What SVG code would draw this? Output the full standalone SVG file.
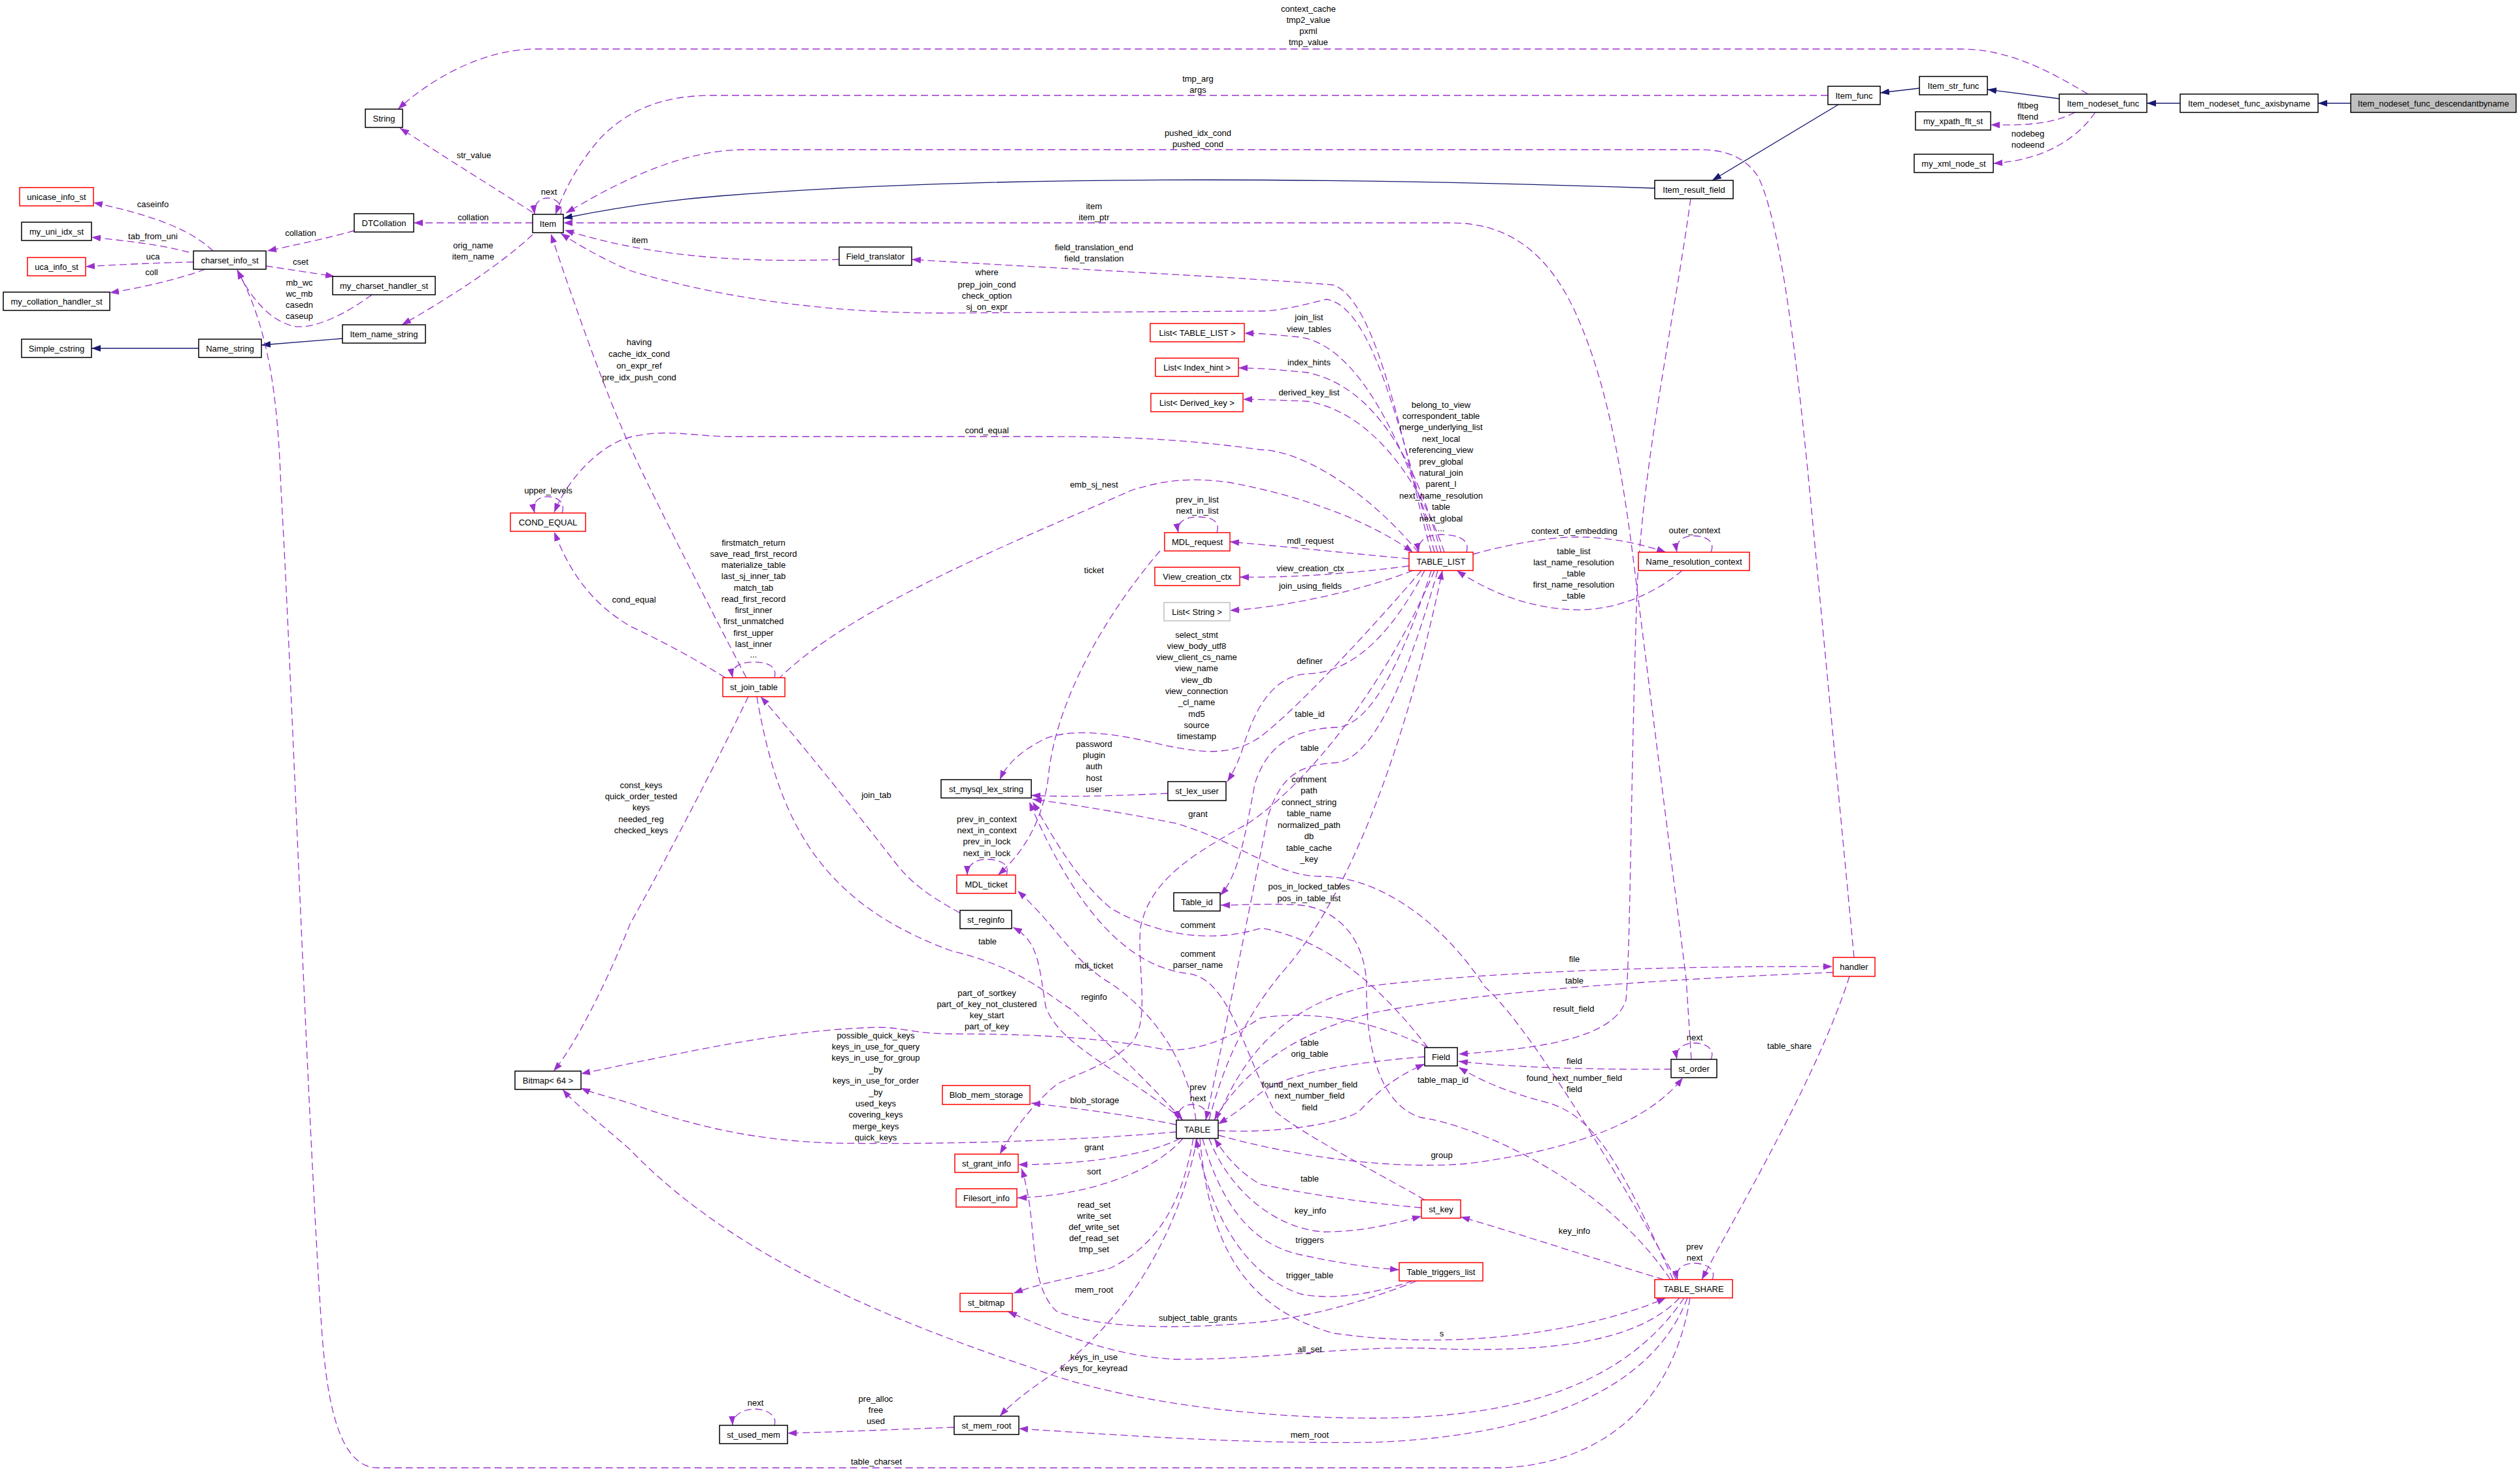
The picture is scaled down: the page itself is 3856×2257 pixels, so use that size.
<svg xmlns="http://www.w3.org/2000/svg" width="3856" height="2257" viewBox="0 0 3856 2257">
<style>
.n rect{fill:#fff;stroke:#000;stroke-width:1.5}
.n.r rect{stroke:#ff0000}
.n.g rect{stroke:#bfbfbf}
.n.h rect{fill:#bfbfbf}
text{font-family:"Liberation Sans",Arial,Helvetica,sans-serif;font-size:13px;fill:#000;text-anchor:middle}
.e{fill:none;stroke:#9a32cd;stroke-width:1.3;stroke-dasharray:11,6;marker-end:url(#ap)}
.i{fill:none;stroke:#191970;stroke-width:1.3;marker-end:url(#an)}
</style>
<defs>
<marker id="ap" viewBox="0 0 14 10" refX="14" refY="5" markerWidth="14" markerHeight="10" markerUnits="userSpaceOnUse" orient="auto"><path d="M0,0L14,5L0,10z" fill="#9a32cd"/></marker>
<marker id="an" viewBox="0 0 14 10" refX="14" refY="5" markerWidth="14" markerHeight="10" markerUnits="userSpaceOnUse" orient="auto"><path d="M0,0L14,5L0,10z" fill="#191970"/></marker>
</defs>
<rect width="3856" height="2257" fill="#fff"/>
<g id="connectors">
<path class="i" d="M3597,158L3547,158"/>
<path class="i" d="M3336,158L3285,158"/>
<path class="i" d="M3151,151L3041,137"/>
<path class="i" d="M2937,135L2877,142"/>
<path class="i" d="M2813,160L2620,276"/>
<path class="i" d="M2532,288C2000,270 1500,268 1100,300C1000,308 920,322 862,334"/>
<path class="i" d="M524,518L400,528"/>
<path class="i" d="M304,533L140,533"/>

<path class="e" d="M3195,144C3130,105 3070,75 3000,75L820,75C740,75 660,120 609,167"/>
<text x="2002" y="18">context_cache</text><text x="2002" y="35">tmp2_value</text><text x="2002" y="52">pxml</text><text x="2002" y="69">tmp_value</text>

<path class="e" d="M2797,146L1090,146C1010,146 960,170 920,210C880,255 860,300 850,328"/>
<text x="1833" y="124.5">tmp_arg</text><text x="1833" y="141.5">args</text>

<path class="e" d="M2837,1465L2770,760C2745,500 2720,330 2690,270C2670,240 2640,229 2600,229L1140,229C1050,229 960,270 866,326"/>
<text x="1833" y="207.5">pushed_idx_cond</text><text x="1833" y="224.5">pushed_cond</text>

<path class="e" d="M2588,1621L2580,1497L2506,910C2490,780 2470,620 2420,500C2380,400 2320,341 2220,341L862,341"/>
<text x="1674" y="319.5">item</text><text x="1674" y="336.5">item_ptr</text>

<path class="e" d="M2587,304C2560,500 2515,700 2505,900C2495,1200 2495,1450 2488,1530C2470,1590 2350,1605 2232,1613"/>
<text x="2408" y="1547.5">result_field</text>

<path class="e" d="M1284,397C1150,402 1000,395 864,352"/>
<text x="979" y="371.5">item</text>

<path class="e" d="M2190,845C2150,700 2110,460 2040,436C1900,424 1600,410 1395,397"/>
<text x="1674" y="382.5">field_translation_end</text><text x="1674" y="399.5">field_translation</text>

<path class="e" d="M2195,845C2140,650 2100,470 2030,458C2000,465 1960,476 1928,476L1450,479C1250,480 1080,450 964,414C920,395 885,375 858,357"/>
<text x="1510" y="420.5">where</text><text x="1510" y="439.5">prep_join_cond</text><text x="1510" y="456.5">check_option</text><text x="1510" y="473.5">sj_on_expr</text>

<path class="e" d="M2200,845C2150,680 2080,530 1990,516C1950,512 1930,510 1904,510"/>
<text x="2003" y="489.5">join_list</text><text x="2003" y="507.5">view_tables</text>
<path class="e" d="M2205,845C2165,700 2100,590 2000,570C1950,565 1920,563 1895,563"/>
<text x="2003" y="558.5">index_hints</text>
<path class="e" d="M2210,845C2175,740 2100,630 2000,614C1950,612 1925,611 1902,611"/>
<text x="2003" y="604.5">derived_key_list</text>

<path class="e" d="M2244,845C2250,825 2230,818 2205,818C2180,818 2168,830 2171,845"/>
<text x="2205" y="623.5">belong_to_view</text><text x="2205" y="640.9">correspondent_table</text><text x="2205" y="658.3">merge_underlying_list</text><text x="2205" y="675.7">next_local</text><text x="2205" y="693.1">referencing_view</text><text x="2205" y="710.5">prev_global</text><text x="2205" y="727.9">natural_join</text><text x="2205" y="745.3">parent_l</text><text x="2205" y="762.7">next_name_resolution</text><text x="2205" y="780.1">table</text><text x="2205" y="797.5">next_global</text><text x="2205" y="813">...</text>

<path class="e" d="M2170,845C2100,760 2000,690 1928,688C1800,670 1700,668 1600,668L1118,668C1060,668 1020,655 964,669C920,680 870,730 848,784"/>
<text x="1510" y="662.5">cond_equal</text>

<path class="e" d="M860,785C866,768 852,760 838,760C824,760 814,768 818,785"/>
<text x="839" y="755">upper_levels</text>

<path class="e" d="M1110,1037C1050,1000 1000,975 964,958C900,920 870,870 848,814"/>
<text x="970" y="921.5">cond_equal</text>

<path class="e" d="M1142,1037C1060,880 990,740 964,683C930,610 880,470 843,358"/>
<text x="978" y="527.5">having</text><text x="978" y="546">cache_idx_cond</text><text x="978" y="564">on_expr_ref</text><text x="978" y="581.5">pre_idx_push_cond</text>

<path class="e" d="M1185,1037C1190,1020 1175,1013 1153,1013C1130,1013 1118,1022 1121,1037"/>
<text x="1153" y="834.5">firstmatch_return</text><text x="1153" y="851.8">save_read_first_record</text><text x="1153" y="869">materialize_table</text><text x="1153" y="886.3">last_sj_inner_tab</text><text x="1153" y="903.5">match_tab</text><text x="1153" y="920.8">read_first_record</text><text x="1153" y="938">first_inner</text><text x="1153" y="955.3">first_unmatched</text><text x="1153" y="972.5">first_upper</text><text x="1153" y="989.8">last_inner</text><text x="1153" y="1006">...</text>

<path class="e" d="M1190,1040C1300,930 1550,830 1732,750C1780,735 1820,730 1880,738C2000,760 2100,800 2162,845"/>
<text x="1674" y="745.5">emb_sj_nest</text>

<path class="e" d="M1469,1397C1420,1370 1394,1351 1370,1320C1300,1230 1220,1130 1164,1066"/>
<text x="1341" y="1220.5">join_tab</text>

<path class="e" d="M1158,1066C1190,1250 1250,1380 1456,1455C1560,1480 1600,1520 1640,1545C1700,1600 1780,1680 1810,1714"/>
<text x="1511" y="1444.5">table</text>

<path class="e" d="M1145,1066C1080,1200 1000,1350 964,1414C930,1500 880,1600 847,1639"/>
<text x="981" y="1205.5">const_keys</text><text x="981" y="1222.9">quick_order_tested</text><text x="981" y="1240.3">keys</text><text x="981" y="1257.7">needed_reg</text><text x="981" y="1275.1">checked_keys</text>

<path class="e" d="M2156,855C2050,845 1950,835 1882,829"/>
<text x="2005" y="831.5">mdl_request</text>
<path class="e" d="M1862,815C1868,795 1850,791 1832,791C1812,791 1800,800 1803,815"/>
<text x="1832" y="768.5">prev_in_list</text><text x="1832" y="785.5">next_in_list</text>
<path class="e" d="M2156,866C2050,880 1960,884 1897,883"/>
<text x="2005" y="873.5">view_creation_ctx</text>
<path class="e" d="M2162,873C2080,905 1960,930 1882,934"/>
<text x="2005" y="900.5">join_using_fields</text>

<path class="e" d="M1775,843C1700,930 1620,1060 1605,1180C1598,1260 1560,1310 1527,1339"/>
<text x="1674" y="876.5">ticket</text>
<path class="e" d="M1540,1339C1546,1322 1530,1315 1510,1315C1490,1315 1480,1325 1480,1339"/>
<text x="1510" y="1257.5">prev_in_context</text><text x="1510" y="1274.9">next_in_context</text><text x="1510" y="1292.3">prev_in_lock</text><text x="1510" y="1309.7">next_in_lock</text>

<path class="e" d="M1830,1714C1820,1640 1780,1560 1700,1505C1640,1470 1620,1420 1557,1363"/>
<text x="1674" y="1481.5">mdl_ticket</text>
<path class="e" d="M1810,1714C1720,1640 1620,1600 1600,1540C1590,1480 1590,1440 1550,1419"/>
<text x="1674" y="1529.5">reginfo</text>

<path class="e" d="M2175,873C2100,960 1990,1080 1928,1128C1880,1160 1830,1150 1780,1140C1700,1120 1640,1115 1600,1130C1560,1150 1540,1170 1530,1193"/>
<text x="1831" y="975.5">select_stmt</text><text x="1831" y="992.8">view_body_utf8</text><text x="1831" y="1010.1">view_client_cs_name</text><text x="1831" y="1027.4">view_name</text><text x="1831" y="1044.7">view_db</text><text x="1831" y="1062">view_connection</text><text x="1831" y="1079.3">_cl_name</text><text x="1831" y="1096.6">md5</text><text x="1831" y="1113.9">source</text><text x="1831" y="1131.2">timestamp</text>

<path class="e" d="M1787,1214C1700,1218 1640,1220 1578,1217"/>
<text x="1674" y="1142.5">password</text><text x="1674" y="1159.9">plugin</text><text x="1674" y="1177.3">auth</text><text x="1674" y="1194.7">host</text><text x="1674" y="1212.1">user</text>

<path class="e" d="M2180,873C2140,950 2080,1030 2000,1031C1940,1035 1915,1100 1900,1150C1893,1170 1885,1185 1878,1196"/>
<text x="2004" y="1015.5">definer</text>
<path class="e" d="M2190,873C2150,1000 2100,1110 2045,1113C1990,1115 1940,1133 1920,1200C1905,1280 1895,1340 1867,1370"/>
<text x="2004" y="1096.5">table_id</text>
<path class="e" d="M2200,873C2150,1050 2100,1160 2045,1167C1990,1170 1960,1185 1940,1250C1900,1450 1870,1600 1845,1714"/>
<text x="2004" y="1148.5">table</text>

<path class="e" d="M2565,1958C2450,1750 2330,1560 2272,1510C2200,1400 2100,1340 2020,1341C1950,1340 1900,1290 1800,1260C1700,1240 1620,1228 1580,1223"/>
<text x="2003" y="1196.5">comment</text><text x="2003" y="1214">path</text><text x="2003" y="1231.5">connect_string</text><text x="2003" y="1249">table_name</text><text x="2003" y="1266.5">normalized_path</text><text x="2003" y="1284">db</text><text x="2003" y="1301.5">table_cache</text><text x="2003" y="1319">_key</text>

<path class="e" d="M1850,1714C1880,1600 1920,1540 1960,1490C2060,1380 2150,1150 2207,873"/>
<text x="2003" y="1360.5">pos_in_locked_tables</text><text x="2003" y="1379">pos_in_table_list</text>

<path class="e" d="M2556,1958C2450,1800 2250,1720 2174,1710C2110,1690 2090,1600 2091,1510C2090,1430 2040,1390 1990,1385C1940,1382 1900,1385 1868,1385"/>
<text x="2208" y="1656.5">table_map_id</text>

<path class="e" d="M2185,1603C2120,1520 2040,1440 1930,1420C1850,1445 1770,1430 1700,1390C1640,1340 1600,1260 1580,1227"/>
<text x="1833" y="1419.5">comment</text>
<path class="e" d="M2180,1836C2100,1790 2000,1740 1950,1700C1900,1600 1880,1500 1820,1490C1720,1480 1640,1380 1575,1227"/>
<text x="1833" y="1463.5">comment</text><text x="1833" y="1480.5">parser_name</text>

<path class="e" d="M2180,1617C2080,1625 1960,1640 1920,1680C1895,1700 1880,1710 1864,1720"/>
<text x="2004" y="1599.5">table</text><text x="2004" y="1616.5">orig_table</text>
<path class="e" d="M1864,1730C1950,1735 2050,1720 2079,1701C2110,1670 2130,1650 2180,1628"/>
<text x="2004" y="1663.5">found_next_number_field</text><text x="2004" y="1681">next_number_field</text><text x="2004" y="1698.5">field</text>
<path class="e" d="M2557,1636C2450,1637 2320,1634 2232,1624"/>
<text x="2409" y="1627.5">field</text>
<path class="e" d="M2560,1958C2480,1780 2440,1710 2371,1688C2300,1670 2260,1650 2232,1633"/>
<text x="2409" y="1653.5">found_next_number_field</text><text x="2409" y="1670.5">field</text>
<path class="e" d="M1864,1737C2000,1775 2150,1790 2250,1780C2400,1760 2520,1720 2575,1649"/>
<text x="2206" y="1771.5">group</text>
<path class="e" d="M2618,1621C2625,1605 2610,1596 2593,1596C2575,1596 2563,1605 2566,1621"/>
<text x="2593" y="1591.5">next</text>
<path class="e" d="M2175,1848C2080,1840 1990,1825 1928,1812C1890,1790 1870,1760 1858,1742"/>
<text x="2004" y="1807.5">table</text>
<path class="e" d="M1850,1742C1880,1820 1950,1880 2026,1885C2090,1885 2140,1870 2175,1861"/>
<text x="2005" y="1856.5">key_info</text>
<path class="e" d="M2546,1958C2420,1920 2300,1880 2235,1862"/>
<text x="2409" y="1887.5">key_info</text>
<path class="e" d="M1840,1742C1870,1850 1920,1905 1990,1920C2060,1935 2100,1940 2141,1943"/>
<text x="2004" y="1901.5">triggers</text>
<path class="e" d="M2162,1960C2100,1980 2040,1990 1990,1980C1900,1950 1850,1850 1830,1742"/>
<text x="2004" y="1955.5">trigger_table</text>
<path class="e" d="M2168,1960C2080,1995 2000,2015 1928,2023C1850,2030 1700,2040 1616,2006C1570,1960 1590,1870 1563,1788"/>
<text x="1833" y="2020.5">subject_table_grants</text>
<path class="e" d="M1836,1742C1850,1900 1900,2000 2040,2040C2250,2070 2450,2030 2549,1986"/>
<text x="2206" y="2044.5">s</text>
<path class="e" d="M2570,1986C2500,2060 2350,2070 2180,2063C2050,2060 1950,2080 1800,2080C1700,2075 1620,2040 1542,2007"/>
<text x="2004" y="2068.5">all_set</text>
<path class="e" d="M2577,1986C2480,2130 2300,2170 2100,2170C1900,2170 1700,2140 1579,2093C1300,2000 1100,1900 964,1759C920,1720 880,1690 861,1667"/>
<text x="1674" y="2080.5">keys_in_use</text><text x="1674" y="2097.5">keys_for_keyread</text>
<path class="e" d="M1800,1732C1650,1745 1450,1752 1271,1749C1150,1745 1050,1720 964,1688C930,1678 905,1672 889,1665"/>
<text x="1340" y="1588.5">possible_quick_keys</text><text x="1340" y="1605.9">keys_in_use_for_query</text><text x="1340" y="1623.3">keys_in_use_for_group</text><text x="1340" y="1640.7">_by</text><text x="1340" y="1658.1">keys_in_use_for_order</text><text x="1340" y="1675.5">_by</text><text x="1340" y="1692.9">used_keys</text><text x="1340" y="1710.3">covering_keys</text><text x="1340" y="1727.7">merge_keys</text><text x="1340" y="1745.1">quick_keys</text>
<path class="e" d="M2185,1603C2100,1560 2000,1545 1928,1558C1880,1590 1830,1610 1782,1606C1700,1590 1600,1582 1456,1582C1400,1582 1380,1572 1345,1572C1200,1575 1050,1610 889,1643"/>
<text x="1510" y="1523.5">part_of_sortkey</text><text x="1510" y="1540.8">part_of_key_not_clustered</text><text x="1510" y="1558.1">key_start</text><text x="1510" y="1575.4">part_of_key</text>
<path class="e" d="M1800,1721C1720,1705 1640,1695 1578,1688"/>
<text x="1675" y="1687.5">blob_storage</text>
<path class="e" d="M1806,1742C1750,1770 1650,1782 1558,1782"/>
<text x="1674" y="1759.5">grant</text>
<path class="e" d="M2195,873C2120,1050 2000,1200 1911,1259C1840,1300 1760,1340 1745,1420C1740,1480 1760,1560 1733,1594C1700,1630 1640,1645 1616,1660C1580,1690 1550,1730 1530,1766"/>
<text x="1833" y="1249.5">grant</text>
<path class="e" d="M1810,1742C1760,1800 1650,1830 1557,1833"/>
<text x="1674" y="1796.5">sort</text>
<path class="e" d="M1826,1742C1810,1830 1780,1900 1700,1940C1650,1955 1600,1960 1551,1979"/>
<text x="1674" y="1847.5">read_set</text><text x="1674" y="1864.5">write_set</text><text x="1674" y="1881.5">def_write_set</text><text x="1674" y="1898.5">def_read_set</text><text x="1674" y="1915.5">tmp_set</text>
<path class="e" d="M1832,1742C1800,1900 1720,2020 1610,2103C1570,2130 1545,2150 1530,2167"/>
<text x="1674" y="1977.5">mem_root</text>
<path class="e" d="M2582,1986C2520,2150 2300,2200 2100,2207C1900,2210 1700,2195 1559,2186"/>
<text x="2004" y="2199.5">mem_root</text>
<path class="e" d="M1460,2184C1350,2188 1260,2192 1205,2193"/>
<text x="1340" y="2144.5">pre_alloc</text><text x="1340" y="2161.8">free</text><text x="1340" y="2179.1">used</text>
<path class="e" d="M1185,2181C1190,2165 1172,2156 1155,2156C1138,2156 1120,2165 1121,2181"/>
<text x="1156" y="2150.5">next</text>
<path class="e" d="M2586,1986C2560,2150 2450,2240 2297,2246L578,2246C520,2246 500,2150 492,2030C470,1700 445,1000 430,750C425,600 410,500 363,413"/>
<text x="1341" y="2240.5">table_charset</text>
<path class="e" d="M1845,1714C1850,1698 1837,1690 1825,1690C1810,1690 1800,1700 1803,1714"/>
<text x="1833" y="1667.5">prev</text><text x="1833" y="1684.5">next</text>
<path class="e" d="M1862,1714C1900,1620 1960,1540 2094,1509C2250,1490 2500,1478 2804,1479"/>
<text x="2409" y="1471.5">file</text>
<path class="e" d="M2805,1488C2500,1500 2250,1520 2100,1550C1980,1580 1900,1640 1858,1714"/>
<text x="2409" y="1504.5">table</text>
<path class="e" d="M2830,1494C2780,1650 2660,1850 2604,1958"/>
<text x="2738" y="1604.5">table_share</text>
<path class="e" d="M2620,1958C2627,1942 2610,1933 2592,1933C2575,1933 2563,1942 2567,1958"/>
<text x="2593" y="1911.5">prev</text><text x="2593" y="1928.5">next</text>
<path class="e" d="M2254,848C2320,830 2380,820 2430,822C2480,825 2520,835 2549,845"/>
<text x="2409" y="816.5">context_of_embedding</text>
<path class="e" d="M2574,873C2530,910 2470,935 2408,933C2330,930 2270,900 2229,873"/>
<text x="2408" y="847.5">table_list</text><text x="2408" y="864.5">last_name_resolution</text><text x="2408" y="881.5">_table</text><text x="2408" y="898.5">first_name_resolution</text><text x="2408" y="915.5">_table</text>
<path class="e" d="M2618,845C2625,828 2610,820 2592,820C2575,820 2563,828 2566,845"/>
<text x="2593" y="815.5">outer_context</text>
<path class="e" d="M815,325C760,290 680,240 612,196"/>
<text x="725" y="241.5">str_value</text>
<path class="e" d="M815,341L633,341"/>
<text x="724" y="336.5">collation</text>
<path class="e" d="M858,328C862,312 850,303 838,303C826,303 816,312 818,328"/>
<text x="840" y="297.5">next</text>
<path class="e" d="M815,359C760,410 680,460 615,497"/>
<text x="724" y="379.5">orig_name</text><text x="724" y="396.5">item_name</text>
<path class="e" d="M542,353C500,365 450,375 409,384"/>
<text x="460" y="360.5">collation</text>
<path class="e" d="M326,384C300,360 260,335 143,310"/>
<text x="234" y="316.5">caseinfo</text>
<path class="e" d="M289,386C250,375 190,368 140,363"/>
<text x="234" y="365.5">tab_from_uni</text>
<path class="e" d="M296,401C240,402 180,405 131,408"/>
<text x="234" y="396.5">uca</text>
<path class="e" d="M314,412C280,425 220,440 168,448"/>
<text x="232" y="420.5">coll</text>
<path class="e" d="M407,407C440,412 480,418 512,423"/>
<text x="460" y="404.5">cset</text>
<path class="e" d="M569,451C530,480 480,505 449,499C410,490 380,450 363,413"/>
<text x="458" y="436.5">mb_wc</text><text x="458" y="453.8">wc_mb</text><text x="458" y="471.1">casedn</text><text x="458" y="488.4">caseup</text>
<path class="e" d="M3175,172C3140,190 3100,192 3046,191"/>
<text x="3103" y="165.5">fltbeg</text><text x="3103" y="182.5">fltend</text>
<path class="e" d="M3206,172C3180,210 3130,245 3050,250"/>
<text x="3103" y="208.5">nodebeg</text><text x="3103" y="225.5">nodeend</text>
</g>

<g id="n1" class="n h"><rect x="3597" y="144" width="253" height="28"/><text x="3723.5" y="162.5">Item_nodeset_func_descendantbyname</text></g>
<g id="n2" class="n"><rect x="3336" y="144" width="211" height="28"/><text x="3441.5" y="162.5">Item_nodeset_func_axisbyname</text></g>
<g id="n3" class="n"><rect x="3151" y="144" width="134" height="28"/><text x="3218" y="162.5">Item_nodeset_func</text></g>
<g id="n4" class="n"><rect x="2937" y="117" width="104" height="28"/><text x="2989" y="135.5">Item_str_func</text></g>
<g id="n5" class="n"><rect x="2797" y="132" width="80" height="28"/><text x="2837" y="150.5">Item_func</text></g>
<g id="n6" class="n"><rect x="2931" y="171" width="115" height="28"/><text x="2988.5" y="189.5">my_xpath_flt_st</text></g>
<g id="n7" class="n"><rect x="2929" y="236" width="121" height="28"/><text x="2989.5" y="254.5">my_xml_node_st</text></g>
<g id="n8" class="n"><rect x="2532" y="276" width="120" height="28"/><text x="2592" y="294.5">Item_result_field</text></g>
<g id="n9" class="n"><rect x="559" y="167" width="57" height="28"/><text x="587.5" y="185.5">String</text></g>
<g id="n10" class="n"><rect x="815" y="328" width="47" height="28"/><text x="838.5" y="346.5">Item</text></g>
<g id="n11" class="n"><rect x="542" y="327" width="91" height="28"/><text x="587.5" y="345.5">DTCollation</text></g>
<g id="n12" class="n r"><rect x="30" y="287" width="113" height="28"/><text x="86.5" y="305.5">unicase_info_st</text></g>
<g id="n13" class="n"><rect x="33" y="340" width="107" height="28"/><text x="86.5" y="358.5">my_uni_idx_st</text></g>
<g id="n14" class="n r"><rect x="42" y="394" width="89" height="28"/><text x="86.5" y="412.5">uca_info_st</text></g>
<g id="n15" class="n"><rect x="296" y="384" width="111" height="28"/><text x="351.5" y="402.5">charset_info_st</text></g>
<g id="n16" class="n"><rect x="5" y="447" width="163" height="28"/><text x="86.5" y="465.5">my_collation_handler_st</text></g>
<g id="n17" class="n"><rect x="509" y="423" width="157" height="28"/><text x="587.5" y="441.5">my_charset_handler_st</text></g>
<g id="n18" class="n"><rect x="524" y="497" width="127" height="28"/><text x="587.5" y="515.5">Item_name_string</text></g>
<g id="n19" class="n"><rect x="33" y="519" width="107" height="28"/><text x="86.5" y="537.5">Simple_cstring</text></g>
<g id="n20" class="n"><rect x="304" y="519" width="96" height="28"/><text x="352" y="537.5">Name_string</text></g>
<g id="n21" class="n"><rect x="1284" y="378" width="111" height="28"/><text x="1339.5" y="396.5">Field_translator</text></g>
<g id="n22" class="n r"><rect x="1760" y="495" width="144" height="28"/><text x="1832" y="513.5">List&lt; TABLE_LIST &gt;</text></g>
<g id="n23" class="n r"><rect x="1768" y="548" width="127" height="28"/><text x="1831.5" y="566.5">List&lt; Index_hint &gt;</text></g>
<g id="n24" class="n r"><rect x="1761" y="602" width="141" height="28"/><text x="1831.5" y="620.5">List&lt; Derived_key &gt;</text></g>
<g id="n25" class="n r"><rect x="781" y="785" width="115" height="28"/><text x="838.5" y="803.5">COND_EQUAL</text></g>
<g id="n26" class="n r"><rect x="1106" y="1037" width="95" height="29"/><text x="1153.5" y="1056">st_join_table</text></g>
<g id="n27" class="n r"><rect x="1782" y="815" width="100" height="28"/><text x="1832" y="833.5">MDL_request</text></g>
<g id="n28" class="n r"><rect x="1767" y="868" width="130" height="28"/><text x="1832" y="886.5">View_creation_ctx</text></g>
<g id="n29" class="n g"><rect x="1781" y="922" width="101" height="28"/><text x="1831.5" y="940.5">List&lt; String &gt;</text></g>
<g id="n30" class="n"><rect x="1440" y="1193" width="138" height="28"/><text x="1509" y="1211.5">st_mysql_lex_string</text></g>
<g id="n31" class="n"><rect x="1787" y="1196" width="89" height="29"/><text x="1831.5" y="1215">st_lex_user</text></g>
<g id="n32" class="n r"><rect x="1464" y="1339" width="90" height="28"/><text x="1509" y="1357.5">MDL_ticket</text></g>
<g id="n33" class="n"><rect x="1469" y="1393" width="79" height="28"/><text x="1508.5" y="1411.5">st_reginfo</text></g>
<g id="n34" class="n"><rect x="1796" y="1366" width="71" height="28"/><text x="1831.5" y="1384.5">Table_id</text></g>
<g id="n35" class="n r"><rect x="2156" y="845" width="98" height="28"/><text x="2205" y="863.5">TABLE_LIST</text></g>
<g id="n36" class="n r"><rect x="2507" y="845" width="170" height="28"/><text x="2592" y="863.5">Name_resolution_context</text></g>
<g id="n37" class="n r"><rect x="2805" y="1465" width="64" height="29"/><text x="2837" y="1484">handler</text></g>
<g id="n38" class="n"><rect x="788" y="1639" width="101" height="28"/><text x="838.5" y="1657.5">Bitmap&lt; 64 &gt;</text></g>
<g id="n39" class="n r"><rect x="1442" y="1661" width="134" height="29"/><text x="1509" y="1680">Blob_mem_storage</text></g>
<g id="n40" class="n"><rect x="1800" y="1714" width="64" height="28"/><text x="1832" y="1732.5">TABLE</text></g>
<g id="n41" class="n r"><rect x="1461" y="1766" width="97" height="28"/><text x="1509.5" y="1784.5">st_grant_info</text></g>
<g id="n42" class="n r"><rect x="1463" y="1819" width="93" height="28"/><text x="1509.5" y="1837.5">Filesort_info</text></g>
<g id="n43" class="n r"><rect x="1469" y="1979" width="80" height="28"/><text x="1509" y="1997.5">st_bitmap</text></g>
<g id="n44" class="n"><rect x="1460" y="2167" width="99" height="28"/><text x="1509.5" y="2185.5">st_mem_root</text></g>
<g id="n45" class="n"><rect x="1101" y="2181" width="104" height="28"/><text x="1153" y="2199.5">st_used_mem</text></g>
<g id="n46" class="n"><rect x="2180" y="1603" width="50" height="28"/><text x="2205" y="1621.5">Field</text></g>
<g id="n47" class="n"><rect x="2557" y="1621" width="70" height="28"/><text x="2592" y="1639.5">st_order</text></g>
<g id="n48" class="n r"><rect x="2175" y="1836" width="60" height="28"/><text x="2205" y="1854.5">st_key</text></g>
<g id="n49" class="n r"><rect x="2141" y="1932" width="128" height="28"/><text x="2205" y="1950.5">Table_triggers_list</text></g>
<g id="n50" class="n r"><rect x="2532" y="1958" width="119" height="28"/><text x="2591.5" y="1976.5">TABLE_SHARE</text></g>
</svg>
